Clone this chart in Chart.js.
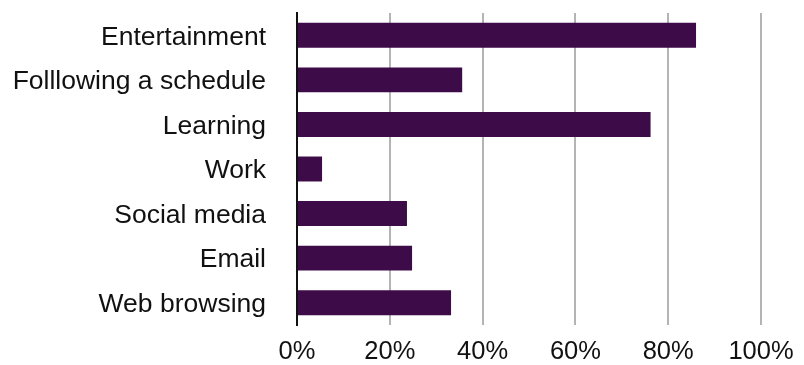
<!DOCTYPE html>
<html>
<head>
<meta charset="utf-8">
<script src="https://cdn.jsdelivr.net/npm/chart.js@4.4.1/dist/chart.umd.min.js"></script>
<style>
  html, body { margin: 0; padding: 0; background: #fff; }
  #wrap { width: 804px; height: 365px; }
</style>
</head>
<body>
<div id="wrap"><canvas id="chartUsos"></canvas></div>
<script>
const categorias = ['Entertainment', 'Folllowing a schedule', 'Learning', 'Work', 'Social media', 'Email', 'Web browsing'];
const porcentajes = [86, 35.6, 76.2, 5.4, 23.7, 24.8, 33.2];
const ticksX = [0, 20, 40, 60, 80, 100];

const familia = '"Liberation Sans", Arial, Helvetica, sans-serif';

const ctx = document.getElementById('chartUsos');

new Chart(ctx, {
  type: 'bar',
  data: {
    labels: categorias,
    datasets: [{
      data: porcentajes,
      backgroundColor: '#3d0b48',
      borderWidth: 0,
      categoryPercentage: 1,
      barPercentage: 0.56
    }]
  },
  options: {
    indexAxis: 'y',
    responsive: true,
    maintainAspectRatio: false,
    animation: false,
    layout: { padding: { top: 13, right: 43, left: 0, bottom: 0 } },
    plugins: {
      legend: { display: false },
      tooltip: { enabled: false }
    },
    scales: {
      x: {
        min: 0,
        max: 100,
        afterBuildTicks: (scale) => {
          scale.ticks = ticksX.map(v => ({ value: v }));
        },
        afterFit: (scale) => {
          scale.height = 40;
          scale.paddingLeft = 0;
          scale.paddingRight = 0;
        },
        grid: { color: '#b4b4b4', lineWidth: 2, drawTicks: false },
        border: { display: false },
        ticks: {
          color: '#111',
          font: { family: familia, size: 25.5 },
          padding: 12,
          callback: (v) => v + '%'
        }
      },
      y: {
        afterFit: (scale) => {
          scale.width = 297;
          scale.paddingTop = 0;
          scale.paddingBottom = 0;
        },
        grid: { display: false, drawTicks: false },
        border: { display: true, color: '#111', width: 2 },
        ticks: {
          color: '#111',
          font: { family: familia, size: 26.5 },
          padding: 31,
          labelOffset: 2
        }
      }
    }
  }
});
</script>
</body>
</html>
